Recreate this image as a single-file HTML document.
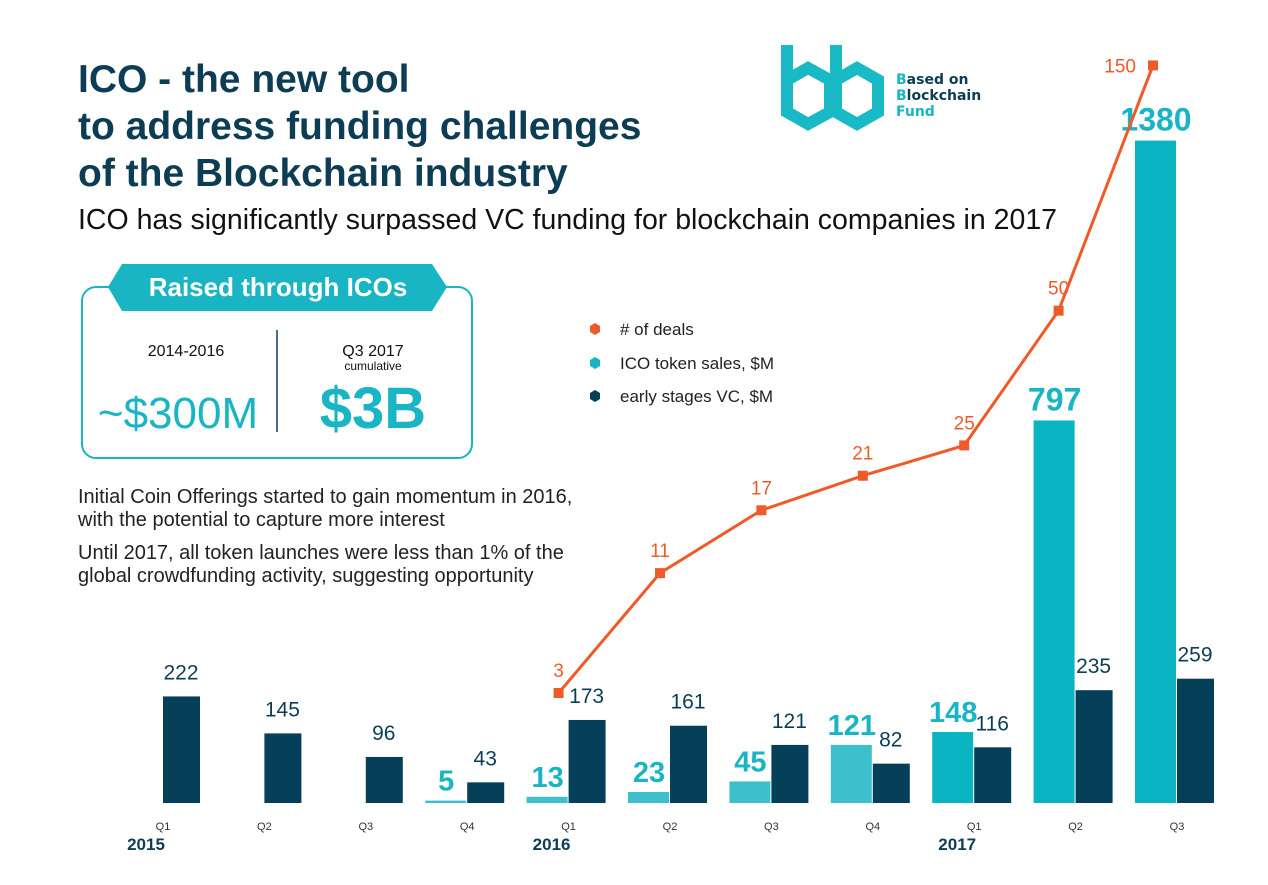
<!DOCTYPE html>
<html><head><meta charset="utf-8"><style>
body{margin:0;width:1268px;height:885px;background:#fff;font-family:"Liberation Sans",sans-serif;overflow:hidden;position:relative}
.t{position:absolute;white-space:nowrap;color:#0d3d55}
</style></head><body>
<div class="t" style="left:78px;top:56px;font-size:39px;font-weight:bold;line-height:47px">ICO - the new tool<br>to address funding challenges<br>of the Blockchain industry</div>
<div class="t" style="left:78px;top:204px;font-size:28.5px;color:#111">ICO has significantly surpassed VC funding for blockchain companies in 2017</div>
<div class="t" style="left:78px;top:486px;font-size:20px;color:#222;line-height:23px">Initial Coin Offerings started to gain momentum in 2016,<br>with the potential to capture more interest</div>
<div class="t" style="left:78px;top:542px;font-size:20px;color:#222;line-height:23px">Until 2017, all token launches were less than 1% of the<br>global crowdfunding activity, suggesting opportunity</div>
<div class="t" style="left:896px;top:72px;font-size:14px;font-weight:bold;line-height:16px;font-family:'DejaVu Sans',sans-serif"><span style="color:#19b5c4">B</span>ased on<br><span style="color:#19b5c4">B</span>lockchain<br><span style="color:#19b5c4">Fund</span></div>
<svg width="1268" height="885" style="position:absolute;left:0;top:0" id="svg">
<g fill="none" stroke="#19b9c6" stroke-width="12">
<polyline points="787,45 787,112 808,124 830,112 830,80 808,68 787,80"/>
<polyline points="836,45 836,112 857,124 878,112 878,80 857,68 836,80"/>
</g>
<g>
<rect x="82" y="287" width="390" height="171" rx="14" fill="#fff" stroke="#19b5c4" stroke-width="2"/>
<polygon points="122,264 432,264 447,287 432,311 122,311 108,287" fill="#19b5c4"/>
<text x="278" y="296" text-anchor="middle" font-size="26" font-weight="bold" fill="#fff">Raised through ICOs</text>
<line x1="277" y1="330" x2="277" y2="432" stroke="#0d3d55" stroke-width="1.5"/>
<text x="186" y="356" text-anchor="middle" font-size="16" fill="#111">2014-2016</text>
<text x="178" y="428" text-anchor="middle" font-size="44" fill="#19b5c4">~$300M</text>
<text x="373" y="356" text-anchor="middle" font-size="16" fill="#111">Q3 2017</text>
<text x="373" y="370" text-anchor="middle" font-size="12" fill="#111">cumulative</text>
<text x="373" y="428" text-anchor="middle" font-size="58" font-weight="bold" fill="#19b5c4">$3B</text>
</g>
<g font-size="17" fill="#222">
<polygon points="595,323 600,326 600,332 595,335 590,332 590,326" fill="#f05a28"/><text x="620" y="335">&#35; of deals</text>
<polygon points="595,357 600,360 600,366 595,369 590,366 590,360" fill="#19b5c4"/><text x="620" y="369">ICO token sales, $M</text>
<polygon points="595,390 600,393 600,399 595,402 590,399 590,393" fill="#063f58"/><text x="620" y="402">early stages VC, $M</text>
</g>
<g id="chart"></g>
</svg>
<script>
const quarters=["Q1","Q2","Q3","Q4","Q1","Q2","Q3","Q4","Q1","Q2","Q3"];
const years=["2015","2016","2017"];
const icoValues=[null,null,null,5,13,23,45,121,148,797,1380];
const vcValues=[222,145,96,43,173,161,121,82,116,235,259];
const dealValues=[null,null,null,null,3,11,17,21,25,50,150];
const NS="http://www.w3.org/2000/svg";
const g=document.getElementById('chart');
const base=803;
const xC=i=>163+i*101.4;
const yBar=v=>base-v*0.48;
const yDeal=v=>693-250*(Math.log(v+10)-Math.log(13));
function mk(t,a){const e=document.createElementNS(NS,t);for(const k in a)e.setAttribute(k,a[k]);g.appendChild(e);return e;}
quarters.forEach((q,i)=>{
  const c=xC(i);
  const t=mk('text',{x:c,y:830,'text-anchor':'middle','font-size':11,fill:'#333'});t.textContent=q;
  
  
  const iv=icoValues[i];
  if(iv!==null){
    const col=i>=8?'#0ab4c3':'#3dc0cc';
    const r=mk('rect',{x:c-42,y:yBar(iv),width:41,height:base-yBar(iv),fill:col});
    
    
    const l=mk('text',{x:c-21,y:yBar(iv)-10,'text-anchor':'middle','font-size':iv>500?32:29,'font-weight':'bold',fill:'#19b5c4'});l.textContent=iv;
    
    
  }
  const vv=vcValues[i];
  const r2=mk('rect',{x:c,y:yBar(vv),width:37,height:base-yBar(vv),fill:'#063f58'});
  
  
  const l2=mk('text',{x:c+18,y:yBar(vv)-17,'text-anchor':'middle','font-size':21,fill:'#0d3d55'});l2.textContent=vv;
  
  
});
years.forEach((y,k)=>{
  const t=mk('text',{x:xC(k*4)-17,y:850,'text-anchor':'middle','font-size':17,'font-weight':'bold',fill:'#0d3d55'});t.textContent=y;
  
  
});
const pts=[];
dealValues.forEach((v,i)=>{if(v!==null)pts.push([xC(i)-10-(i>=9?(i-8)*7:0),yDeal(v),v]);});
const pl=mk('polyline',{points:pts.map(p=>p[0]+','+p[1]).join(' '),fill:'none',stroke:'#f05a28','stroke-width':3});


pts.forEach(p=>{
  const m=mk('rect',{x:p[0]-5,y:p[1]-5,width:10,height:10,fill:'#f05a28'});
  
  
  const last=p[2]===150;
  const l=mk('text',{x:p[0]+(last?-17:0),y:p[1]+(last?7:-16),'text-anchor':last?'end':'middle','font-size':19,fill:'#f05a28'});l.textContent=p[2];
  
  
});
</script>
</body></html>
